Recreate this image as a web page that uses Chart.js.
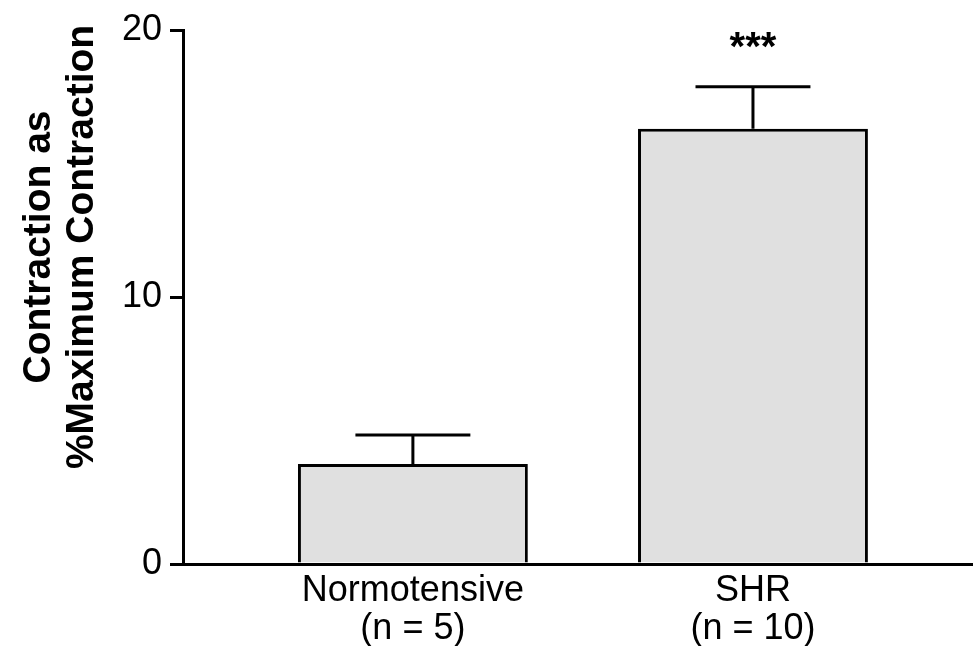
<!DOCTYPE html>
<html>
<head>
<meta charset="utf-8">
<script src="https://cdn.jsdelivr.net/npm/chart.js@4"></script>
<style>
  html, body { margin: 0; padding: 0; background: #fff; }
  #wrap { width: 973px; height: 646px; }
</style>
</head>
<body>
<div id="wrap"><canvas id="chart" width="973" height="646"></canvas></div>
<script>
const groups = ['Normotensive', 'SHR'];
const groupN = ['(n = 5)', '(n = 10)'];
const means = [3.75, 16.3];
const sem = [1.08, 1.57];
const marks = ['', '***'];
const yTicks = [0, 10, 20];
const yTitle = ['Contraction as', '%Maximum Contraction'];

const FONT = '"Liberation Sans", Arial, Helvetica, sans-serif';

const errorBars = {
  id: 'errorBars',
  afterDatasetsDraw(chart) {
    const ctx = chart.ctx;
    const y = chart.scales.y;
    const meta = chart.getDatasetMeta(0);
    ctx.save();
    ctx.strokeStyle = '#000';
    ctx.lineWidth = 3;
    meta.data.forEach((bar, i) => {
      const top = y.getPixelForValue(means[i] + sem[i]);
      const half = bar.width / 4;
      ctx.beginPath();
      ctx.moveTo(bar.x, bar.y);
      ctx.lineTo(bar.x, top);
      ctx.moveTo(bar.x - half, top);
      ctx.lineTo(bar.x + half, top);
      ctx.stroke();
      if (marks[i]) {
        ctx.fillStyle = '#000';
        ctx.font = 'bold 40px ' + FONT;
        ctx.textAlign = 'center';
        ctx.textBaseline = 'middle';
        ctx.fillText(marks[i], bar.x, top - 38);
      }
    });
    ctx.restore();
  }
};

const sideTitle = {
  id: 'sideTitle',
  afterDraw(chart) {
    const ctx = chart.ctx;
    ctx.save();
    ctx.translate(0, 247);
    ctx.rotate(-Math.PI / 2);
    ctx.fillStyle = '#000';
    ctx.font = 'bold 39px ' + FONT;
    ctx.textAlign = 'center';
    ctx.textBaseline = 'alphabetic';
    ctx.fillText(yTitle[0], 0, 50);
    ctx.fillText(yTitle[1], 0, 93);
    ctx.restore();
  }
};

new Chart(document.getElementById('chart'), {
  type: 'bar',
  data: {
    datasets: [{
      data: groups.map((g, i) => ({ x: i + 1, y: means[i] })),
      backgroundColor: '#e0e0e0',
      borderColor: '#000',
      borderWidth: 3,
      borderSkipped: 'bottom',
      barPercentage: 0.676,
      categoryPercentage: 1
    }]
  },
  options: {
    responsive: false,
    animation: false,
    layout: { padding: { top: 30, right: 0, left: 0, bottom: 0 } },
    plugins: { legend: { display: false }, tooltip: { enabled: false } },
    scales: {
      x: {
        type: 'linear',
        offset: false,
        min: 0.324,
        max: 2.647,
        afterBuildTicks: (scale) => { scale.ticks = groups.map((g, i) => ({ value: i + 1 })); },
        afterFit: (scale) => { scale.height = 82; },
        grid: { display: false, offset: false },
        border: { display: true, color: '#000', width: 3 },
        ticks: {
          color: '#000',
          padding: 0,
          font: { family: FONT, size: 36, lineHeight: 1.06 },
          maxRotation: 0,
          autoSkip: false,
          callback: (v) => [groups[v - 1], groupN[v - 1]]
        }
      },
      y: {
        min: 0,
        max: 20,
        afterBuildTicks: (scale) => { scale.ticks = yTicks.map(v => ({ value: v })); },
        afterFit: (scale) => { scale.width = 183; },
        grid: {
          drawOnChartArea: false,
          drawTicks: true,
          tickLength: 13,
          color: '#000',
          lineWidth: 3
        },
        border: { display: true, color: '#000', width: 3 },
        ticks: {
          color: '#000',
          padding: 8,
          font: { family: FONT, size: 36 }
        }
      }
    }
  },
  plugins: [errorBars, sideTitle]
});
</script>
</body>
</html>
